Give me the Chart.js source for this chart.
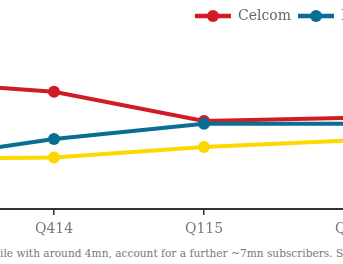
<!DOCTYPE html>
<html>
<head>
<meta charset="utf-8">
<script src="https://cdn.jsdelivr.net/npm/chart.js@4/dist/chart.umd.min.js"></script>
<style>
  html, body { margin: 0; padding: 0; background: #fff; }
  #quadro { position: relative; width: 343px; height: 264px; overflow: hidden; }
  #grafico { position: absolute; left: -126px; top: 0; }
  #nota {
    position: absolute; left: 0; top: 247px; white-space: nowrap;
    font: 10.6px/13px "DejaVu Serif", serif; color: #777;
  }
</style>
</head>
<body>
<div id="quadro">
  <canvas id="grafico" width="510" height="246"></canvas>
  <div id="nota">ile with around 4mn, account for a further ~7mn subscribers. S</div>
</div>
<script>
// trimestres e assinantes (milhões)
var trimestres = ['Q314', 'Q414', 'Q115', 'Q215'];
var celcom = [14.2, 13.93, 13.2, 13.28];
var maxis = [12.2, 12.75, 13.13, 13.13];
var digi = [12.25, 12.29, 12.55, 12.72];

var Operadoras = Operadoras || {};

Operadoras.Grafico = (function() {

	var CORES = { celcom: '#d01c24', maxis: '#0a6d94', digi: '#fdd700' };
	var FONTE = '"DejaVu Serif", serif';
	var INICIO_LEGENDA = 321; // x do primeiro item, em px do canvas

	function criarMarcador(cor) {
		var c = document.createElement('canvas');
		c.width = 36;
		c.height = 14;
		var g = c.getContext('2d');
		g.strokeStyle = cor;
		g.lineWidth = 4.5;
		g.beginPath();
		g.moveTo(0, 7);
		g.lineTo(36, 7);
		g.stroke();
		g.fillStyle = cor;
		g.beginPath();
		g.arc(18, 7, 6, 0, Math.PI * 2);
		g.fill();
		return c;
	}

	// a legenda começa a meio do gráfico, como no original
	var legendaDeslocada = {
		id: 'legendaDeslocada',
		afterLayout: function(chart) {
			var legenda = chart.legend;
			legenda.left = INICIO_LEGENDA - legenda.options.labels.padding;
			legenda.right = legenda.left + 1000;
			legenda.width = 1000;
		}
	};

	function serie(nome, valores, cor, ordem) {
		return {
			label: nome,
			data: valores,
			borderColor: cor,
			backgroundColor: cor,
			borderWidth: 4,
			pointRadius: 6,
			pointBorderWidth: 0,
			pointBackgroundColor: cor,
			tension: 0,
			order: ordem
		};
	}

	function Grafico() {
		this.ctx = document.getElementById('grafico').getContext('2d');
	}

	Grafico.prototype.iniciar = function() {
		var marcadores = [criarMarcador(CORES.celcom), criarMarcador(CORES.maxis), criarMarcador(CORES.digi)];
		new Chart(this.ctx, {
			type: 'line',
			data: {
				labels: trimestres,
				datasets: [
					serie('Celcom', celcom, CORES.celcom, 2),
					serie('Maxis', maxis, CORES.maxis, 1),
					serie('Digi', digi, CORES.digi, 3)
				]
			},
			options: {
				responsive: false,
				animation: false,
				layout: { padding: { left: 30, right: 30, top: 2, bottom: 2.2 } },
				plugins: {
					tooltip: { enabled: false },
					legend: {
						position: 'top',
						align: 'start',
						labels: {
							usePointStyle: true,
							pointStyleWidth: 36,
							boxHeight: 14,
							padding: 7,
							color: '#666',
							font: { family: FONTE, size: 14 },
							sort: function(a, b) { return a.datasetIndex - b.datasetIndex; },
							generateLabels: function(chart) {
								var itens = Chart.defaults.plugins.legend.labels.generateLabels(chart);
								itens.forEach(function(item) {
									item.pointStyle = marcadores[item.datasetIndex];
								});
								return itens;
							}
						}
					}
				},
				scales: {
					x: {
						offset: false,
						grid: { display: true, drawOnChartArea: false, drawTicks: true, tickLength: 6, color: '#333', lineWidth: 1.5 },
						border: { display: true, color: '#333', width: 2 },
						ticks: { color: '#777', font: { family: FONTE, size: 14 }, padding: 6, maxRotation: 0, autoSkip: false }
					},
					y: { display: false, min: 11, max: 15.4 }
				}
			},
			plugins: [legendaDeslocada]
		});
	};

	return Grafico;

}());

var grafico = new Operadoras.Grafico();
grafico.iniciar();
</script>
</body>
</html>
